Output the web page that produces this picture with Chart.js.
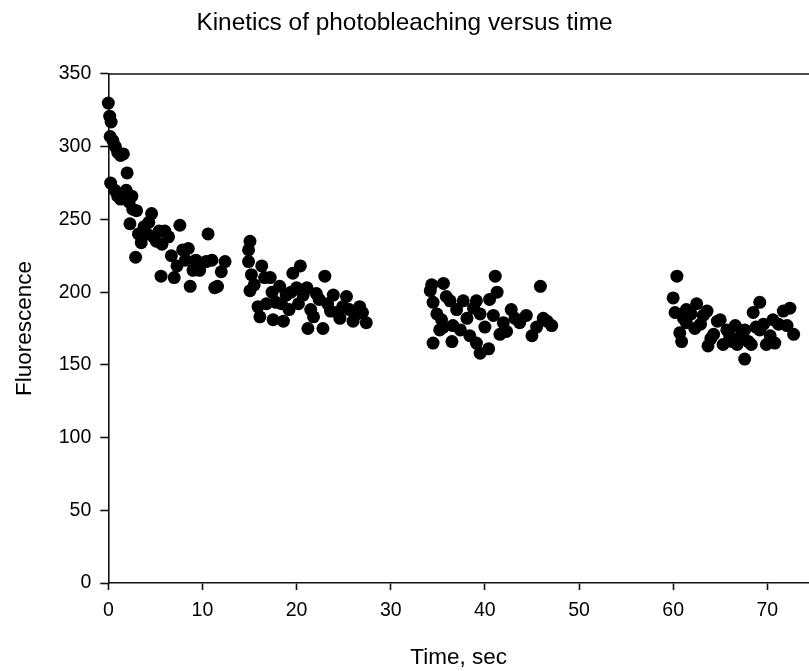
<!DOCTYPE html>
<html lang="en">
<head>
    <meta charset="UTF-8">
    <title>Kinetics of photobleaching versus time</title>
    <script src="https://cdn.jsdelivr.net/npm/chart.js"></script>
    <style>
        body {
            margin: 0;
            background: #fff;
        }
        canvas {
            display: block;
        }
    </style>
</head>
<body>
    <canvas id="myChart" width="809" height="671"></canvas>

    <script>
        // time in seconds
        const timeSec = [
            0.0, 0.15, 0.3, 0.2, 0.5, 0.75, 1.0, 1.3, 1.6, 0.25, 0.7, 1.0, 1.3, 1.6, 2.0, 1.9, 2.2, 2.5, 2.6, 2.3,
            3.0, 2.9, 3.2, 3.5, 3.8, 4.1, 4.3, 4.6, 4.8, 5.1, 5.4, 5.7, 6.0, 5.6, 6.4, 6.7, 7.0, 7.3, 7.6, 7.9,
            8.2, 8.5, 8.7, 9.0, 9.3, 9.7, 10.0, 10.4, 10.6, 11.0, 11.3, 11.6, 12.0, 12.4,
            14.9, 15.05, 14.9, 15.2, 15.05, 15.5, 15.9, 16.1, 16.3, 16.6, 16.8, 17.2, 17.5, 17.4, 17.8, 18.2,
            18.6, 18.4, 18.9, 19.2, 19.4, 19.6, 20.0, 20.4, 20.2, 20.7, 21.1, 21.2, 21.5, 21.8, 22.1, 22.4,
            22.8, 23.0, 23.3, 23.6, 23.9, 24.3, 24.6, 24.9, 25.3, 25.6, 26.0, 26.4, 26.7, 27.0, 27.4,
            34.2, 34.35, 34.5, 34.5, 34.9, 35.2, 35.4, 35.6, 35.6, 35.9, 36.3, 36.5, 36.6, 37.0, 37.4, 37.7,
            38.1, 38.4, 38.8, 39.1, 39.1, 39.5, 39.5, 40.0, 40.4, 40.5, 40.9, 41.1, 41.3, 41.6, 41.96, 42.3,
            42.8, 43.2, 43.7, 44.4, 45.0, 45.5, 45.9, 46.2, 46.6, 47.1,
            60.0, 60.2, 60.4, 60.7, 60.9, 61.1, 61.4, 61.4, 61.9, 62.3, 62.5, 62.9, 63.2, 63.6, 63.7, 64.0,
            64.3, 64.7, 65.0, 65.3, 65.7, 66.0, 66.3, 66.6, 66.8, 67.2, 67.6, 67.6, 68.0, 68.3, 68.5, 68.8,
            69.2, 69.2, 69.6, 69.9, 70.3, 70.6, 70.8, 71.2, 71.7, 72.1, 72.4, 72.8
        ];

        const fluorescence = [
            330, 321, 317, 307, 304, 300, 296, 294, 295, 275, 270, 266, 264, 268, 282, 270, 262, 266, 257, 247,
            256, 224, 240, 234, 245, 240, 248, 254, 238, 235, 242, 233, 242, 211, 238, 225, 210, 218, 246, 229,
            222, 230, 204, 215, 222, 215, 220, 221, 240, 222, 203, 204, 214, 221,
            229, 235, 221, 212, 201, 205, 190, 183, 218, 210, 192, 210, 181, 200, 193, 204,
            180, 192, 198, 188, 200, 213, 203, 218, 192, 198, 203, 175, 188, 183, 199, 195,
            175, 211, 192, 187, 198, 186, 182, 190, 197, 188, 180, 185, 190, 186, 179,
            201, 205, 193, 165, 185, 174, 181, 206, 176, 197, 194, 166, 177, 188, 174, 194,
            182, 170, 189, 194, 165, 185, 158, 176, 161, 195, 184, 211, 200, 171, 179, 173,
            188, 182, 179, 184, 170, 176, 204, 182, 180, 177,
            196, 186, 211, 172, 166, 182, 188, 179, 185, 175, 192, 178, 184, 187, 163, 168,
            171, 180, 181, 164, 174, 170, 166, 177, 164, 170, 174, 154, 166, 164, 186, 176,
            193, 174, 178, 164, 170, 181, 165, 178, 187, 177, 189, 171
        ];

        const xTicks = [0, 10, 20, 30, 40, 50, 60, 70];
        const yTicks = [0, 50, 100, 150, 200, 250, 300, 350];

        const FONT = 'Arial, "Liberation Sans", sans-serif';

        // SigmaPlot style closed frame line along the top
        const topFrame = {
            id: 'topFrame',
            afterDraw(chart) {
                const { ctx, chartArea } = chart;
                ctx.save();
                ctx.strokeStyle = '#111';
                ctx.lineWidth = 1.6;
                ctx.beginPath();
                ctx.moveTo(chartArea.left, chartArea.top);
                ctx.lineTo(chartArea.right + 5, chartArea.top);
                ctx.stroke();
                ctx.restore();
            }
        };

        const ctx = document.getElementById('myChart').getContext('2d');
        new Chart(ctx, {
            type: 'scatter',
            data: {
                datasets: [{
                    label: 'Fluorescence',
                    data: timeSec.map((t, i) => ({ x: t, y: fluorescence[i] })),
                    backgroundColor: '#000',
                    borderColor: '#000',
                    borderWidth: 0,
                    pointRadius: 6.5,
                    pointHoverRadius: 6.5,
                    clip: false
                }]
            },
            options: {
                responsive: false,
                animation: false,
                layout: { padding: 0, autoPadding: false },
                plugins: {
                    legend: { display: false },
                    tooltip: { enabled: false },
                    title: {
                        display: true,
                        text: 'Kinetics of photobleaching versus time',
                        color: '#000',
                        font: { family: FONT, size: 24.4, weight: 'normal' },
                        padding: { top: 9, bottom: 35.7 }
                    }
                },
                scales: {
                    x: {
                        type: 'linear',
                        min: 0,
                        max: 74.43,
                        afterFit: (scale) => {
                            scale.height = 88;
                            scale.paddingLeft = 0;
                            scale.paddingRight = 0;
                        },
                        afterBuildTicks: (scale) => { scale.ticks = xTicks.map(v => ({ value: v })); },
                        border: { display: true, color: '#111', width: 1.6 },
                        grid: { drawOnChartArea: false, drawTicks: true, tickLength: 7, tickColor: '#111', tickWidth: 1.6 },
                        ticks: {
                            color: '#000',
                            padding: 9,
                            maxRotation: 0,
                            font: { family: FONT, size: 19.5 }
                        },
                        title: {
                            display: true,
                            text: 'Time, sec',
                            color: '#000',
                            font: { family: FONT, size: 22.5 },
                            padding: { bottom: 0 }
                        }
                    },
                    y: {
                        min: 0,
                        max: 350,
                        afterFit: (scale) => {
                            scale.width = 108.3;
                            scale.paddingTop = 0;
                            scale.paddingBottom = 0;
                        },
                        afterBuildTicks: (scale) => { scale.ticks = yTicks.map(v => ({ value: v })); },
                        border: { display: true, color: '#111', width: 1.6 },
                        grid: { drawOnChartArea: false, drawTicks: true, tickLength: 8, tickColor: '#111', tickWidth: 1.6 },
                        ticks: {
                            color: '#000',
                            padding: 9,
                            font: { family: FONT, size: 19.5 }
                        },
                        title: {
                            display: true,
                            text: 'Fluorescence',
                            color: '#000',
                            font: { family: FONT, size: 22.5 },
                            padding: { top: 11.5 }
                        }
                    }
                }
            },
            plugins: [topFrame]
        });
    </script>
</body>
</html>
